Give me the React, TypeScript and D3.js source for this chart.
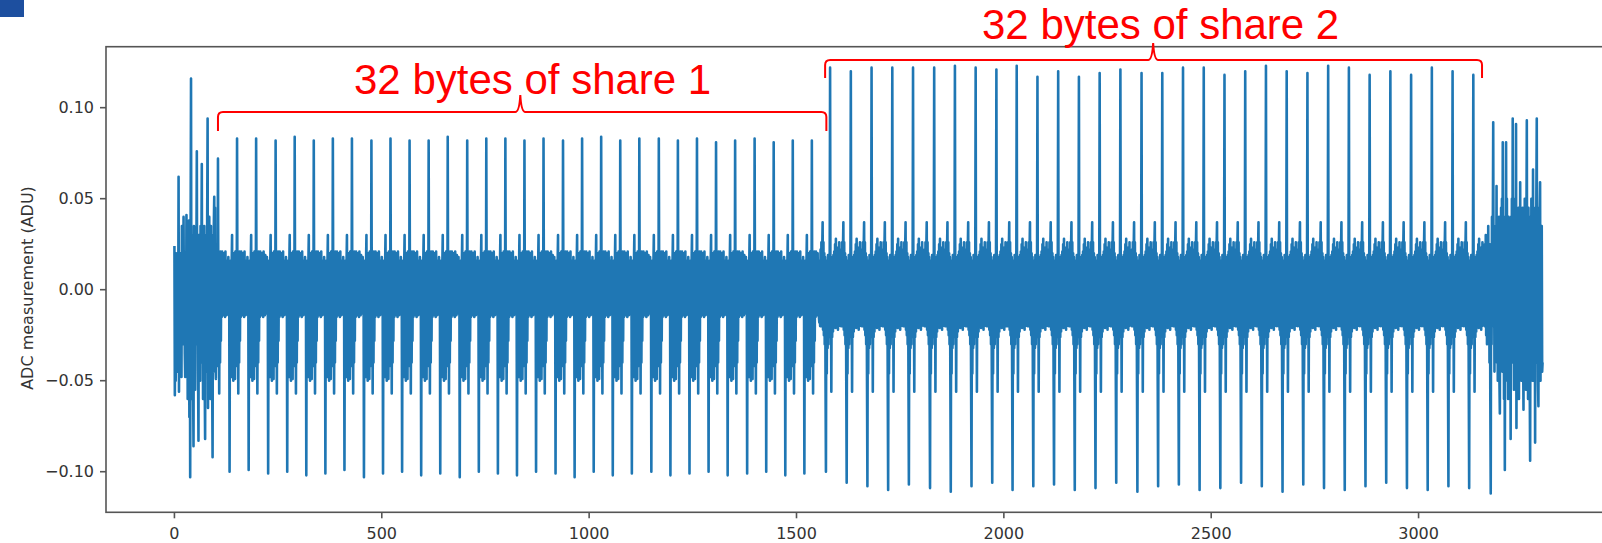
import React, { useEffect, useRef } from 'react';
import * as d3 from 'd3';

// ADC trace of the 64-byte masked key load: two shares of 32 bytes each

const xTicks = [0, 500, 1000, 1500, 2000, 2500, 3000];
const yTicks = [-0.1, -0.05, 0, 0.05, 0.1];

// samples 0..99, the start-up transient
const headTrace = [
  0.024, -0.058, 0.01, -0.05, 0.02, -0.03, 0.015, -0.045, 0.005, -0.02,
  0.062, -0.056, 0.015, -0.03, 0.02, -0.04, 0.01, -0.048, 0.035, -0.025,
  0.028, -0.03, 0.04, -0.02, 0.012, -0.035, -0.048, 0.02, -0.03, 0.041,
  -0.04, 0.03, -0.06, 0.025, -0.045, 0.038, -0.07, 0.02, -0.103, 0.03,
  0.116, -0.04, 0.025, -0.06, 0.03, -0.05, -0.086, 0.035, -0.04, 0.028,
  -0.055, 0.03, -0.02, 0.02, 0.076, -0.03, 0.025, -0.045, -0.083, 0.03,
  -0.035, 0.025, -0.05, 0.035, -0.04, 0.02, 0.069, -0.03, 0.03, -0.06,
  0.02, -0.04, 0.035, -0.05, -0.082, 0.028, -0.045, 0.03, -0.035, 0.04,
  0.094, -0.065, 0.03, -0.05, 0.04, -0.045, 0.025, -0.06, 0.035, -0.04,
  0.03, -0.05, -0.092, 0.028, -0.045, 0.035, 0.051, -0.03, 0.045, -0.04,
];

// share 1: sample index of each byte's main spike, its height and the trough before it
const share1Spikes = [
  105, 151, 197, 244, 290, 336, 382, 428, 475, 521, 567, 613, 659, 706, 752, 798,
  844, 890, 937, 983, 1029, 1075, 1121, 1168, 1214, 1260, 1306, 1352, 1399, 1445, 1491, 1537,
];
const share1Peaks = [
  0.072, 0.083, 0.083, 0.082, 0.084, 0.082, 0.083, 0.083, 0.082, 0.083, 0.082, 0.082, 0.084, 0.082, 0.083, 0.083,
  0.082, 0.083, 0.082, 0.083, 0.084, 0.082, 0.083, 0.083, 0.082, 0.083, 0.081, 0.082, 0.083, 0.081, 0.082, 0.082,
];
const share1Troughs = [
  -0.097, -0.1, -0.099, -0.101, -0.1, -0.102, -0.101, -0.099, -0.103, -0.101, -0.1, -0.102, -0.101, -0.103, -0.1, -0.101,
  -0.102, -0.1, -0.101, -0.103, -0.1, -0.102, -0.101, -0.1, -0.102, -0.101, -0.1, -0.102, -0.101, -0.1, -0.102, -0.101,
];
// one byte of share 1, offsets -24..23 around the spike (spike and trough filled per byte)
const share1Byte = [
  -0.012, 0.016, -0.013, 0.018, -0.011, 0.014, 0, 0.012, -0.044, 0.016, -0.048, 0.014,
  0.03, -0.046, 0.018, -0.05, 0.02, -0.045, 0.016, -0.049, 0.021, -0.042, 0.018, -0.036,
  0, -0.012, 0.014, -0.057, 0.018, -0.04, 0.021, -0.028, 0.019, -0.015, 0.021, -0.013,
  0.017, -0.014, 0.02, -0.012, 0.016, -0.015, 0.021, -0.013, 0.015, -0.014, 0.019, -0.012,
];

// share 2
const share2Spikes = [
  1581, 1631, 1681, 1731, 1781, 1832, 1882, 1932, 1982, 2031, 2081, 2131, 2181, 2231, 2281, 2332,
  2382, 2432, 2482, 2532, 2582, 2632, 2682, 2732, 2782, 2832, 2882, 2932, 2982, 3032, 3082, 3132,
];
const share2Peaks = [
  0.122, 0.12, 0.122, 0.122, 0.122, 0.122, 0.123, 0.122, 0.121, 0.123, 0.117, 0.12, 0.117, 0.119, 0.121, 0.119,
  0.119, 0.122, 0.122, 0.118, 0.12, 0.123, 0.12, 0.119, 0.123, 0.122, 0.118, 0.12, 0.118, 0.122, 0.12, 0.118,
];
const share2Troughs = [
  -0.1, -0.106, -0.108, -0.11, -0.107, -0.109, -0.111, -0.108, -0.106, -0.11, -0.108, -0.107, -0.11, -0.109, -0.106, -0.111,
  -0.108, -0.107, -0.11, -0.109, -0.106, -0.108, -0.111, -0.107, -0.109, -0.11, -0.108, -0.106, -0.109, -0.11, -0.108, -0.109,
];
// one byte of share 2, offsets -26..25
const share2Byte = [
  -0.018, 0.016, -0.02, 0.022, -0.018, 0.026, -0.02, 0.022, 0.037, -0.022, 0.026, -0.025, 0.02,
  -0.03, 0.018, -0.05, 0, 0.012, -0.046, 0.016, -0.032, 0.019, -0.03, 0.014, -0.026, 0.01,
  0, -0.022, 0.015, -0.056, 0.013, -0.026, 0.018, -0.023, 0.019, -0.02, 0.021, -0.019, 0.025,
  -0.021, 0.028, -0.019, 0.021, -0.02, 0.023, -0.022, 0.018, -0.02, 0.026, -0.019, 0.015, -0.018,
];

// samples 3158..3299, the closing transient
const TAIL_START = 3158;
const tailTrace = [
  0.02, -0.02, 0.025, -0.018, 0.03, -0.025, 0.022, -0.03, 0.026, -0.02,
  0.035, -0.028, 0.02, -0.04, 0.025, -0.06, -0.112, 0.02, -0.03, 0.04,
  -0.02, 0.03, 0.092, -0.02, 0.03, -0.045, 0.025, -0.03, 0.035, -0.02,
  0.057, -0.04, 0.03, -0.05, 0.02, -0.035, 0.04, -0.05, -0.068, 0.03,
  -0.04, 0.045, -0.03, 0.05, -0.045, 0.081, -0.02, 0.04, -0.06, 0.03,
  -0.099, 0.02, -0.03, 0.081, -0.04, 0.05, -0.05, 0.035, -0.06, 0.04,
  -0.035, 0.02, -0.05, 0.03, -0.082, 0.04, -0.03, 0.05, -0.04, 0.094,
  -0.03, 0.045, -0.055, 0.03, -0.045, 0.05, -0.03, 0.091, -0.076, 0.04,
  -0.05, 0.035, -0.04, 0.045, -0.06, 0.03, -0.045, 0.059, -0.035, 0.04,
  -0.05, 0.025, -0.04, 0.045, -0.03, -0.066, 0.035, -0.045, 0.05, -0.03,
  0.04, -0.055, 0.03, 0.093, -0.04, 0.035, -0.06, 0.045, -0.03, 0.04,
  -0.05, -0.094, 0.03, -0.04, 0.05, -0.035, 0.04, -0.05, 0.066, -0.03,
  0.045, -0.05, 0.03, -0.084, 0.04, -0.035, 0.05, 0.094, -0.04, 0.035,
  -0.05, -0.064, 0.045, -0.03, 0.04, 0.059, -0.05, 0.03, -0.04, 0.035,
  -0.045, -0.04,
];

function buildTrace(): number[] {
  const n = TAIL_START + tailTrace.length;
  const trace = new Array(n).fill(0);

  const placeBytes = (spikes, peaks, troughs, byte, start, troughOffset) => {
    spikes.forEach((s, k) => {
      byte.forEach((v, j) => {
        const i = s + start + j;
        if (i >= 0 && i < n) trace[i] = v;
      });
      trace[s] = peaks[k];
      trace[s + troughOffset] = troughs[k];
    });
  };

  placeBytes(share1Spikes, share1Peaks, share1Troughs, share1Byte, -24, -18);
  placeBytes(share2Spikes, share2Peaks, share2Troughs, share2Byte, -26, -10);
  headTrace.forEach((v, i) => { trace[i] = v; });
  tailTrace.forEach((v, i) => { trace[TAIL_START + i] = v; });
  return trace;
}

const fmt = (v: number) => (v < 0 ? '\u2212' : '') + Math.abs(v).toFixed(2);

export default function App() {
  const svgRef = useRef<SVGSVGElement>(null);

  useEffect(() => {
    if (!svgRef.current) return;
    const trace = buildTrace();
    const width = 1602;
    const height = 543;

    const svg = d3.select(svgRef.current);
    svg.selectAll('*').remove();

    // matplotlib-style 5% margins: right spine falls just off the page
    const x = d3.scaleLinear().domain([-165, 3464]).range([106, 1611]);
    const y = d3.scaleLinear().domain([-0.1223, 0.1335]).range([512.3, 46.7]);

    const [x0, x1] = x.range();
    const [yb, yt] = y.range();

    svg.append('rect').attr('width', width).attr('height', height).attr('fill', '#fff');

    // corner tab from the slide
    svg.append('rect').attr('x', 0).attr('y', 0).attr('width', 24).attr('height', 17).attr('fill', '#1d4f9f');

    svg.append('clipPath').attr('id', 'plot-clip')
      .append('rect').attr('x', x0).attr('y', yt).attr('width', x1 - x0).attr('height', yb - yt);

    const line = d3.line<number>()
      .x((d, i) => x(i))
      .y(d => y(d));

    svg.append('path')
      .datum(trace)
      .attr('clip-path', 'url(#plot-clip)')
      .attr('fill', 'none')
      .attr('stroke', '#1f77b4')
      .attr('stroke-width', 2.6)
      .attr('stroke-linejoin', 'round')
      .attr('d', line);

    // spines
    svg.append('rect')
      .attr('x', x0).attr('y', yt)
      .attr('width', x1 - x0).attr('height', yb - yt)
      .attr('fill', 'none')
      .attr('stroke', '#555')
      .attr('stroke-width', 1.6);

    const tickFont = 'DejaVu Sans, Verdana, sans-serif';

    // y axis
    const yAxis = svg.append('g');
    yTicks.forEach(t => {
      yAxis.append('line')
        .attr('x1', x0 - 6).attr('x2', x0)
        .attr('y1', y(t)).attr('y2', y(t))
        .attr('stroke', '#555').attr('stroke-width', 1.6);
      yAxis.append('text')
        .attr('x', x0 - 12).attr('y', y(t))
        .attr('dy', '0.36em')
        .attr('text-anchor', 'end')
        .attr('font-family', tickFont)
        .attr('font-size', 16)
        .attr('fill', '#333')
        .text(fmt(t));
    });

    // x axis
    const xAxis = svg.append('g');
    xTicks.forEach(t => {
      xAxis.append('line')
        .attr('x1', x(t)).attr('x2', x(t))
        .attr('y1', yb).attr('y2', yb + 6)
        .attr('stroke', '#555').attr('stroke-width', 1.6);
      xAxis.append('text')
        .attr('x', x(t)).attr('y', 539)
        .attr('text-anchor', 'middle')
        .attr('font-family', tickFont)
        .attr('font-size', 16)
        .attr('fill', '#333')
        .text(String(t));
    });

    svg.append('text')
      .attr('transform', `translate(33, 288) rotate(-90)`)
      .attr('text-anchor', 'middle')
      .attr('font-family', tickFont)
      .attr('font-size', 16)
      .attr('fill', '#333')
      .text('ADC measurement (ADU)');

    // red brackets marking the two shares
    const brackets = [
      { label: '32 bytes of share 1', from: 105, to: 1572, mid: 834, yH: 112, yEnd: 131, yTip: 95, textX: 354, textY: 94 },
      { label: '32 bytes of share 2', from: 1569, to: 3153, mid: 2360, yH: 60, yEnd: 78, yTip: 43, textX: 982, textY: 39 },
    ];

    brackets.forEach(b => {
      const a = x(b.from);
      const c = x(b.to);
      const m = x(b.mid);
      const r = 5;
      const path = [
        `M${a},${b.yEnd}`,
        `L${a},${b.yH + r}`,
        `Q${a},${b.yH} ${a + r},${b.yH}`,
        `L${m - 5},${b.yH}`,
        `Q${m - 1},${b.yH} ${m},${b.yTip}`,
        `Q${m + 1},${b.yH} ${m + 5},${b.yH}`,
        `L${c - r},${b.yH}`,
        `Q${c},${b.yH} ${c},${b.yH + r}`,
        `L${c},${b.yEnd}`,
      ].join(' ');
      svg.append('path')
        .attr('d', path)
        .attr('fill', 'none')
        .attr('stroke', '#ff0000')
        .attr('stroke-width', 2);
      svg.append('text')
        .attr('x', b.textX).attr('y', b.textY)
        .attr('font-family', 'Liberation Sans, Arial, sans-serif')
        .attr('font-size', 42)
        .attr('fill', '#ff0000')
        .text(b.label);
    });
  }, []);

  return (
    <svg
      ref={svgRef}
      width={1602}
      height={543}
      style={{ position: 'absolute', left: 0, top: 0, display: 'block' }}
    />
  );
}
